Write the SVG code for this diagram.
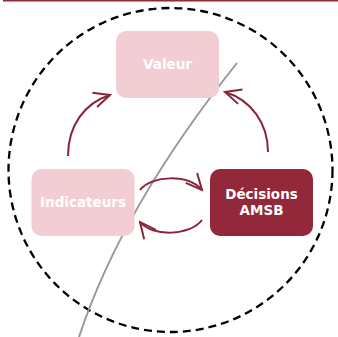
<svg xmlns="http://www.w3.org/2000/svg" width="338" height="337" viewBox="0 0 338 337">
  <style>
    .light { fill: #f2cdd4; }
    .dark { fill: #93283a; }
    .lbl { font-family: "DejaVu Sans", "Verdana", sans-serif; font-weight: bold; font-size: 13.5px; fill: #ffffff; text-anchor: middle; }
    .arrow { fill: none; stroke: #8c2439; stroke-width: 2; marker-end: url(#ah); }
  </style>
  <defs>
    <marker id="ah" markerUnits="userSpaceOnUse" viewBox="-18 -10 20 20" refX="0" refY="0" markerWidth="20" markerHeight="20" orient="auto">
      <path d="M-16,-7.5 L0,0 L-16,7.5" fill="none" stroke="#8c2439" stroke-width="2"/>
    </marker>
  </defs>
  <rect x="3" y="0" width="335" height="1.5" fill="#93283a"/>
  <g id="boundary">
    <circle cx="170.5" cy="170" r="162" fill="none" stroke="#000000" stroke-width="2.3" stroke-dasharray="8,5"/>
  </g>
  <g id="divider">
    <path d="M237,63 Q122,207 79,337" fill="none" stroke="#999999" stroke-width="2"/>
  </g>
  <g id="valeur">
    <rect class="light" x="116" y="31" width="103" height="67" rx="10"/>
    <text class="lbl" x="167.5" y="69">Valeur</text>
  </g>
  <g id="indicateurs">
    <rect class="light" x="31.5" y="169" width="103" height="67" rx="10"/>
    <text class="lbl" x="83" y="207">Indicateurs</text>
  </g>
  <g id="decisions">
    <rect class="dark" x="210" y="169" width="103" height="67" rx="10"/>
    <text class="lbl" x="261.5" y="199">Décisions</text>
    <text class="lbl" x="261.5" y="215">AMSB</text>
  </g>
  <g id="connectors">
    <path class="arrow" d="M68,156 C68,125 85,103 110,95"/>
    <path class="arrow" d="M268,152 C268,123 251,100 225,92"/>
    <path class="arrow" d="M140,190 C152,175 188,174 202,190"/>
    <path class="arrow" d="M202,220 C190,236 152,237 140,222"/>
  </g>
</svg>
